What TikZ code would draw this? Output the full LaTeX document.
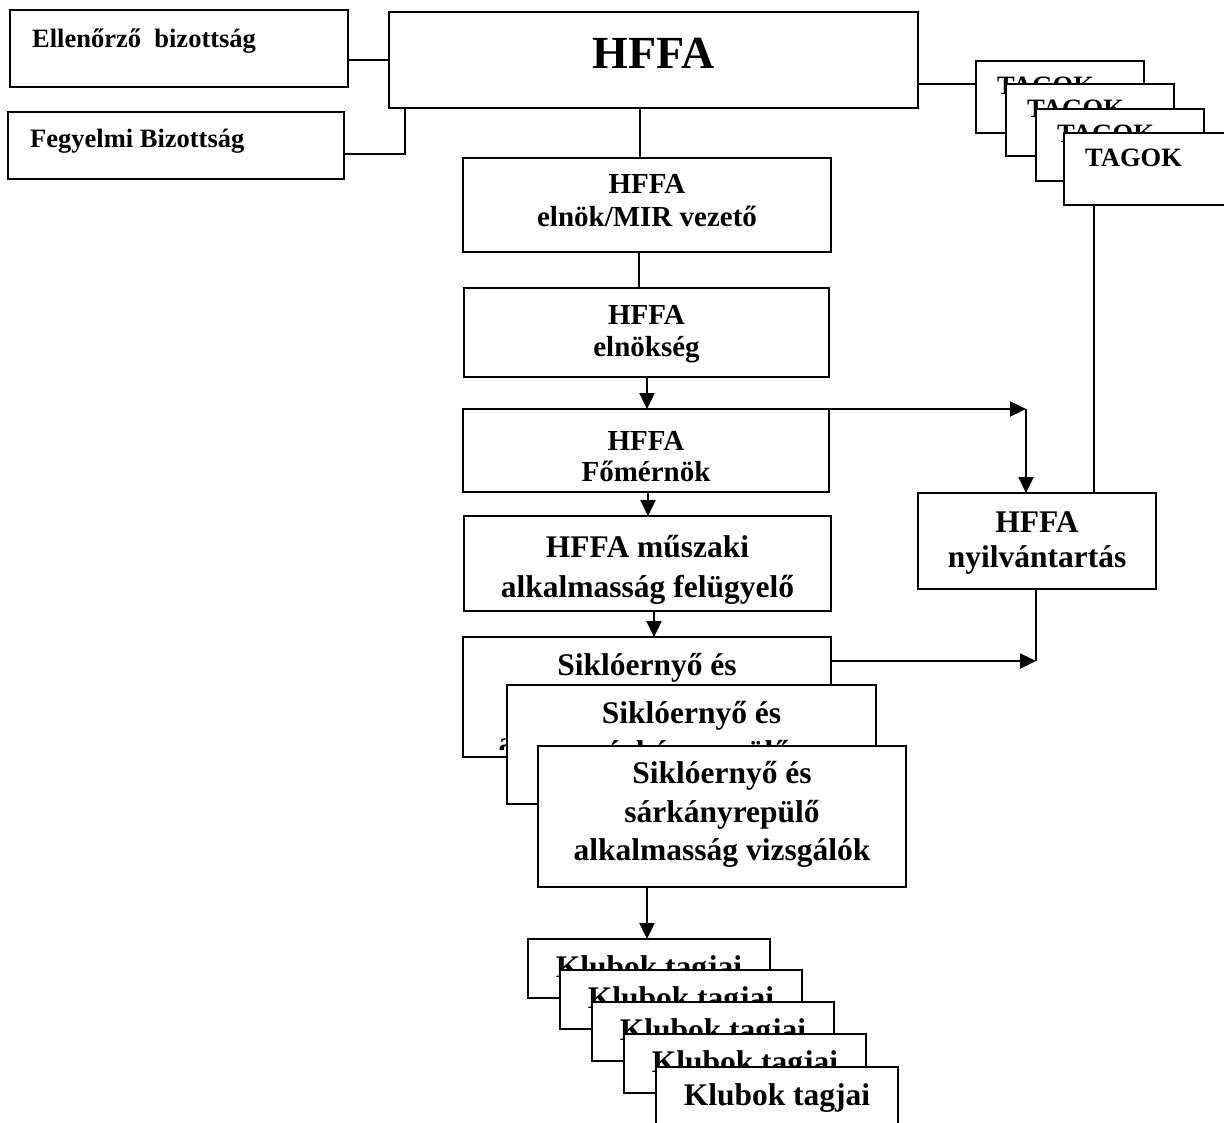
\documentclass[tikz,border=0pt]{standalone}
\usepackage{fontspec}
\setmainfont{Liberation Serif}
\usetikzlibrary{arrows.meta,calc}
\newcommand{\fsS}{\fontsize{26.5}{30}\selectfont\bfseries}
\newcommand{\fsM}{\fontsize{29}{33}\selectfont\bfseries}
\newcommand{\fsL}{\fontsize{31.5}{36}\selectfont\bfseries}
\newcommand{\fsH}{\fontsize{46}{52}\selectfont\bfseries}
\begin{document}
\begin{tikzpicture}[x=1pt,y=-1pt,
  bx/.style={draw, fill=white, line width=2.4pt, inner sep=0pt, outer sep=0pt, anchor=north west},
  txc/.style={inner sep=0pt, anchor=base},
  txw/.style={inner sep=0pt, anchor=base west},
  conn/.style={line width=2.4pt},
  arr/.style={line width=2.4pt, -{Triangle[length=16pt,width=15pt]}}]
\useasboundingbox (0,0) rectangle (1224,1123);
\fill[white] (0,0) rectangle (1224,1123);
\clip (0,0) rectangle (1224,1123);

% left committees
\node[bx, minimum width=338pt, minimum height=77pt] (ell) at (10,10) {};
\node[txw] (tell) at (32,48) {\fsS Ellenőrző~~bizottság};
\node[bx, minimum width=336pt, minimum height=67pt] (feg) at (8,112) {};
\node[txw] (tfeg) at (30,148) {\fsS Fegyelmi Bizottság};

% main
\node[bx, minimum width=529pt, minimum height=96pt] (hffa) at (389,12) {};
\node[txc] (thffa) at (653.5,69) {\fsH HFFA};

% TAGOK stack
\node[bx, minimum width=168pt, minimum height=72pt] (tag1) at (976,61) {};
\node[txw] (ttag1) at (997,95) {\fsS TAGOK};
\node[bx, minimum width=168pt, minimum height=72pt] (tag2) at (1006,84) {};
\node[txw] (ttag2) at (1027,118) {\fsS TAGOK};
\node[bx, minimum width=168pt, minimum height=72pt] (tag3) at (1036,109) {};
\node[txw] (ttag3) at (1057,143) {\fsS TAGOK};
\node[bx, minimum width=168pt, minimum height=72pt] (tag4) at (1064,133) {};
\node[txw] (ttag4) at (1085,167) {\fsS TAGOK};

% central column
\node[bx, minimum width=368pt, minimum height=94pt] (eln) at (463,158) {};
\node[txc] (teln1) at (647,194) {\fsM HFFA};
\node[txc] (teln2) at (647,227) {\fsM elnök/MIR vezető};

\node[bx, minimum width=365pt, minimum height=89pt] (elk) at (464,288) {};
\node[txc] (telk1) at (646.5,325) {\fsM HFFA};
\node[txc] (telk2) at (646.5,356) {\fsM elnökség};

\node[bx, minimum width=366pt, minimum height=83pt] (fom) at (463,409) {};
\node[txc] (tfom1) at (646,450) {\fsM HFFA};
\node[txc] (tfom2) at (646,481) {\fsM Főmérnök};

\node[bx, minimum width=367pt, minimum height=95pt] (musz) at (464,516) {};
\node[txc] (tmusz1) at (647.5,557) {\fsL HFFA műszaki};
\node[txc] (tmusz2) at (647.5,597) {\fsL alkalmasság felügyelő};

\node[bx, minimum width=238pt, minimum height=96pt] (nyil) at (918,493) {};
\node[txc] (tnyil1) at (1037,532) {\fsL HFFA};
\node[txc] (tnyil2) at (1037,567) {\fsL nyilvántartás};

% Siklóernyő stack
\node[bx, minimum width=368pt, minimum height=120pt] (sik1) at (463,637) {};
\begin{scope}
\clip ($(sik1.north west)+(2,2)$) rectangle ($(sik1.south east)+(-2,-8)$);
\node[txc] (tsik1a) at (647,675) {\fsL Siklóernyő és};
\node[txc] (tsik1b) at (647,714) {\fsL sárkányrepülő};
\node[txc] (tsik1c) at (647,753) {\fsL alkalmasság vizsgálók};
\end{scope}
\node[bx, minimum width=369pt, minimum height=119pt] (sik2) at (507,685) {};
\node[txc] (tsik2a) at (691.5,723) {\fsL Siklóernyő és};
\node[txc] (tsik2b) at (691.5,762) {\fsL sárkányrepülő};
\node[txc] (tsik2c) at (691.5,801) {\fsL alkalmasság vizsgálók};
\node[bx, minimum width=368pt, minimum height=141pt] (sik3) at (538,746) {};
\node[txc] (tsik3a) at (722,783) {\fsL Siklóernyő és};
\node[txc] (tsik3b) at (722,822) {\fsL sárkányrepülő};
\node[txc] (tsik3c) at (722,860) {\fsL alkalmasság vizsgálók};

% Klubok stack
\node[bx, minimum width=242pt, minimum height=59pt] (klub1) at (528,939) {};
\node[txc] (tklub1) at (649,977) {\fsL Klubok tagjai};
\node[bx, minimum width=242pt, minimum height=59pt] (klub2) at (560,970) {};
\node[txc] (tklub2) at (681,1008) {\fsL Klubok tagjai};
\node[bx, minimum width=242pt, minimum height=59pt] (klub3) at (592,1002) {};
\node[txc] (tklub3) at (713,1040) {\fsL Klubok tagjai};
\node[bx, minimum width=242pt, minimum height=59pt] (klub4) at (624,1034) {};
\node[txc] (tklub4) at (745,1072) {\fsL Klubok tagjai};
\node[bx, minimum width=242pt, minimum height=59pt] (klub5) at (656,1067) {};
\node[txc] (tklub5) at (777,1105) {\fsL Klubok tagjai};

% connectors
\draw[conn] (hffa.west) -- (hffa.west -| ell.east);
\draw[conn] ($(feg.north east)+(0,42)$) -| ($(hffa.south west)+(16,0)$);
\draw[conn] ($(hffa.north east)+(0,72)$) -- ($(tag1.north west)+(0,23)$);
\draw[conn] ($(hffa.south west)+(251,0)$) -- ($(eln.north west)+(177,0)$);
\draw[conn] ($(eln.south west)+(176,0)$) -- ($(elk.north west)+(175,0)$);
\draw[arr] ($(elk.south west)+(183,0)$) -- ($(fom.north west)+(184,0)$);
\coordinate (t1) at ($(nyil.north west)+(108,-84)$);
\draw[arr] ($(fom.north west)+(297,0)$) -- (t1);
\draw[arr] (t1) -- ($(nyil.north west)+(108,0)$);
\draw[conn] ($(tag4.south west)+(30,0)$) -- ($(nyil.north west)+(176,0)$);
\draw[arr] ($(fom.south west)+(185,0)$) -- ($(musz.north west)+(184,0)$);
\draw[arr] ($(musz.south west)+(190,0)$) -- ($(sik1.north west)+(191,0)$);
\coordinate (t2) at ($(nyil.south west)+(118,72)$);
\draw[conn] ($(nyil.south west)+(118,0)$) -- (t2);
\draw[arr] ($(sik1.north east)+(0,24)$) -- (t2);
\draw[arr] ($(sik3.south west)+(109,0)$) -- ($(klub1.north west)+(119,0)$);
\end{tikzpicture}
\end{document}
